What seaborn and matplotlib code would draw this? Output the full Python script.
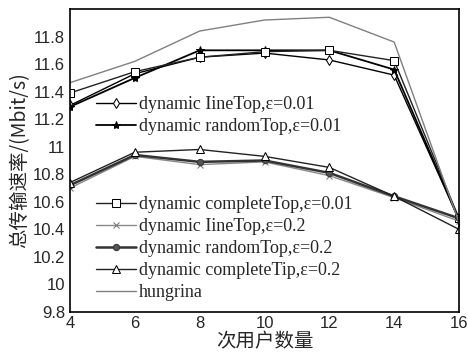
import pandas as pd
import matplotlib
matplotlib.use('Agg')
import matplotlib.pyplot as plt
import seaborn as sns
from matplotlib.ticker import FuncFormatter

users = [4, 6, 8, 10, 12, 14, 16]

line_top_001 = [11.30, 11.53, 11.65, 11.68, 11.63, 11.52, 10.47]
random_top_001 = [11.29, 11.50, 11.70, 11.70, 11.70, 11.56, 10.47]
complete_top_001 = [11.39, 11.545, 11.65, 11.69, 11.70, 11.625, 10.48]
line_top_02 = [10.70, 10.93, 10.87, 10.89, 10.79, 10.63, 10.46]
random_top_02 = [10.72, 10.94, 10.89, 10.90, 10.81, 10.64, 10.48]
complete_tip_02 = [10.74, 10.96, 10.98, 10.93, 10.85, 10.64, 10.40]
hungrina = [11.465, 11.62, 11.84, 11.92, 11.94, 11.76, 10.45]

labels = ['dynamic lineTop,ε=0.01', 'dynamic randomTop,ε=0.01',
          'dynamic completeTop,ε=0.01', 'dynamic lineTop,ε=0.2',
          'dynamic randomTop,ε=0.2', 'dynamic completeTip,ε=0.2', 'hungrina']
# shown in the picture as "Iine" (capital I)
shown = [l.replace('lineTop', 'IineTop') for l in labels]

sns.set_style('white')
plt.rcParams['font.family'] = ['Liberation Sans', 'DejaVu Sans']

fig = plt.figure(figsize=(4.68, 3.53), dpi=100)
ax = fig.add_axes([70/468, 1-312/353, 389/468, 303/353])

styles = [
    (line_top_001, dict(color='black', marker='d', mfc='white', mec='black', ms=5.5, lw=1.0)),
    (random_top_001, dict(color='black', marker='*', mfc='black', mec='black', ms=6, lw=1.3)),
    (complete_top_001, dict(color='#222222', marker='s', mfc='white', mec='black', ms=5.5, lw=1.0)),
    (line_top_02, dict(color='#888888', marker='x', mfc='#888888', mec='#777777', ms=4, lw=1.0)),
    (random_top_02, dict(color='#333333', marker='o', mfc='#555555', mec='#333333', ms=4.5, lw=1.8)),
    (complete_tip_02, dict(color='#222222', marker='^', mfc='white', mec='black', ms=5.5, lw=1.0)),
    (hungrina, dict(color='#808080', marker=None, lw=1.0)),
]

for (vals, st), lab in zip(styles, shown):
    df = pd.DataFrame({'users': users, 'rate': vals})
    st = dict(st)
    sns.lineplot(data=df, x='users', y='rate', ax=ax, label=lab,
                 color=st.pop('color'), marker=st.pop('marker'),
                 markerfacecolor=st.pop('mfc', None),
                 markeredgecolor=st.pop('mec', None),
                 markersize=st.pop('ms', 6), linewidth=st.pop('lw'),
                 legend=False)

ax.set_xlim(4, 16)
ax.set_ylim(9.8, 12.0)
ax.set_xticks([4, 6, 8, 10, 12, 14, 16])
ax.set_yticks([9.8, 10, 10.2, 10.4, 10.6, 10.8, 11, 11.2, 11.4, 11.6, 11.8])
ax.yaxis.set_major_formatter(FuncFormatter(lambda v, p: f'{v:g}'))
ax.tick_params(direction='in', length=4, width=1, labelsize=12, color='black')
ax.tick_params(axis='x', pad=3)
for sp in ax.spines.values():
    sp.set_color('black')
    sp.set_linewidth(1.2)

cjk = ['Noto Sans CJK SC', 'DejaVu Sans']
ax.set_xlabel('次用户数量', family=cjk, fontsize=14, labelpad=0)
ax.set_ylabel('总传输速率/(Mbit/s)', family=cjk, fontsize=14, labelpad=2)

handles = ax.get_lines()
legfont = {'family': ['Liberation Serif', 'DejaVu Serif'], 'size': 13}
opts = dict(loc='upper left', bbox_transform=fig.transFigure, frameon=False,
            prop=legfont, handlelength=2.2, handletextpad=0.2,
            labelspacing=0.28, borderpad=0, borderaxespad=0)
leg1 = ax.legend(handles[0:2], shown[0:2], bbox_to_anchor=(96/468, 1-96/353), **opts)
ax.add_artist(leg1)
ax.legend(handles[2:], shown[2:], bbox_to_anchor=(96/468, 1-196/353), **opts)

fig.savefig('out.png', dpi=100)
